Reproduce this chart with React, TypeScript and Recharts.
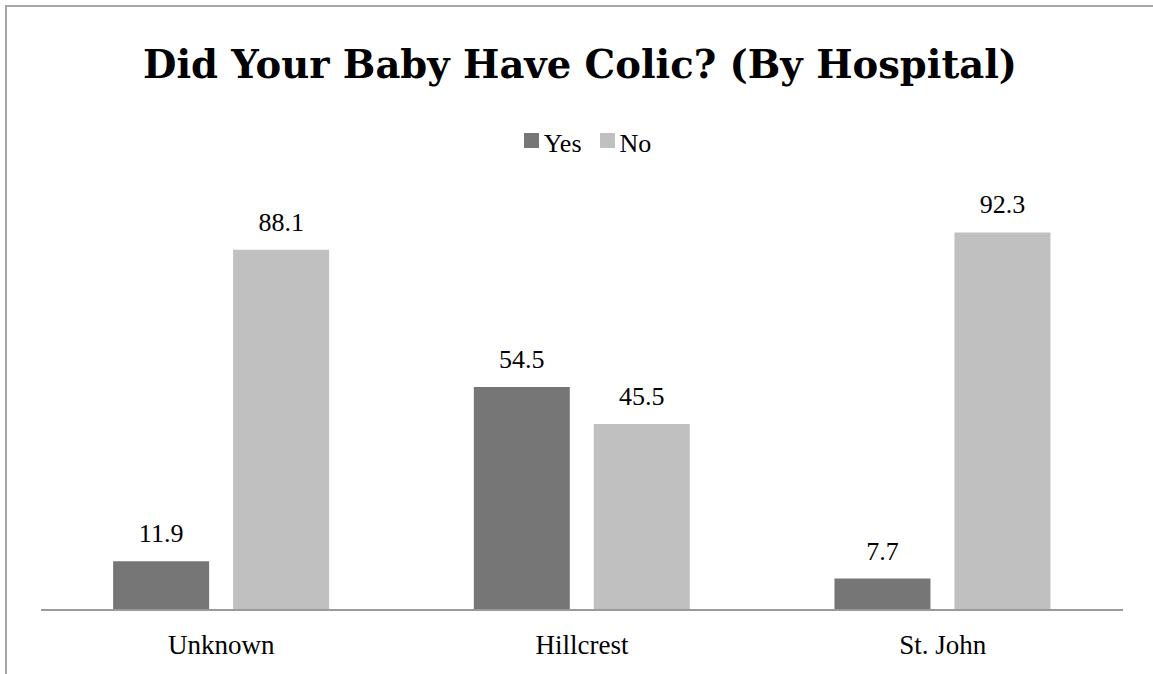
import React from "react"
import { Bar, BarChart, LabelList, Legend, XAxis, YAxis } from "recharts"

const hospitals = ["Unknown", "Hillcrest", "St. John"]
const yesValues = [11.9, 54.5, 7.7]
const noValues = [88.1, 45.5, 92.3]
const seriesNames = ["Yes", "No"]

const chartData = hospitals.map((name, i) => ({
    name,
    Yes: yesValues[i],
    No: noValues[i],
}))

const colors: Record<string, string> = { Yes: "#767676", No: "#c0c0c0" }
const labelFont = "'Liberation Serif', 'Times New Roman', serif"

function renderLegend() {
    return (
        <div style={{ display: "flex", justifyContent: "center", paddingLeft: 22, fontFamily: labelFont, fontSize: 26, lineHeight: "30px", height: 30, color: "#000" }}>
            {seriesNames.map((s, i) => (
                <div key={s} style={{ display: "flex", alignItems: "flex-start", marginRight: i < seriesNames.length - 1 ? 18 : 0 }}>
                    <span style={{ width: 15, height: 15, marginTop: 4, marginRight: 5, background: colors[s], display: "inline-block" }} />
                    <span>{s}</span>
                </div>
            ))}
        </div>
    )
}

export default function App() {
    return (
        <div style={{ position: "absolute", left: 0, top: 0, width: 1153, height: 674, overflow: "hidden", background: "#fff" }}>
            <div style={{ position: "absolute", left: 5, top: 5, width: 1300, height: 800, borderTop: "2px solid #a6a6a6", borderLeft: "2px solid #a6a6a6" }} />
            <svg width={1153} height={120} style={{ position: "absolute", left: 0, top: 0 }}>
                <text x={580} y={78} textAnchor="middle" fontFamily="'DejaVu Serif', serif" fontWeight="bold" fontSize={38.5} fill="#000">
                    Did Your Baby Have Colic? (By Hospital)
                </text>
            </svg>
            <div style={{ position: "absolute", left: 0, top: 0 }}>
                <BarChart
                    width={1153}
                    height={674}
                    data={chartData}
                    margin={{ top: 171, right: 30, left: 41, bottom: 0 }}
                    barCategoryGap="20%"
                    barGap={24}
                >
                    <XAxis
                        dataKey="name"
                        height={64}
                        axisLine={{ stroke: "#9a9a9a", strokeWidth: 2 }}
                        tickLine={false}
                        tickSize={0}
                        tickMargin={25}
                        tick={{ fill: "#000", fontSize: 27, fontFamily: labelFont }}
                    />
                    <YAxis hide domain={[0, 100]} />
                    <Legend verticalAlign="top" content={renderLegend} wrapperStyle={{ top: 129, left: 0, width: 1153 }} />
                    {seriesNames.map((s) => (
                        <Bar key={s} dataKey={s} fill={colors[s]} isAnimationActive={false}>
                            <LabelList dataKey={s} position="top" offset={19} fill="#000" fontSize={26} fontFamily={labelFont} />
                        </Bar>
                    ))}
                </BarChart>
            </div>
        </div>
    )
}
